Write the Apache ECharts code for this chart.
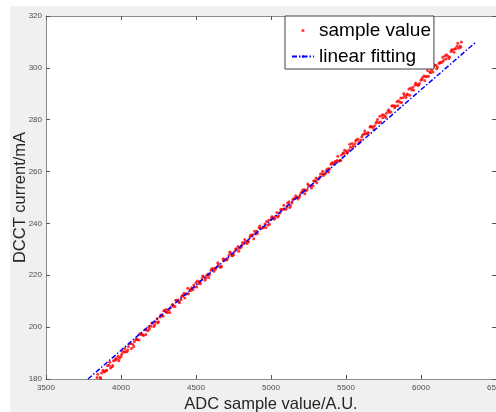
<!DOCTYPE html>
<html>
<head>
<meta charset="utf-8">
<script src="https://cdn.jsdelivr.net/npm/echarts@6/dist/echarts.min.js"></script>
<style>
  html, body { margin:0; padding:0; background:#ffffff; }
  #bg { position:absolute; left:10px; top:6px; width:486px; height:406px; background:#f0f0f0; }
  #chart { position:absolute; left:0; top:0; width:496px; height:412px; }
</style>
</head>
<body>
<div id="bg"></div>
<div id="chart"></div>
<script>
// Axis settings / tick values
const xTicks = [3500, 4000, 4500, 5000, 5500, 6000, 6500];
const yTicks = [180, 200, 220, 240, 260, 280, 300, 320];

// Sample values
const sampleXA = [3840,3860,3880,3900,3920,3940,3960,3980,4000,4020,4040,4060,4080,4100,4120,4140,4160,4180,4200,4220,4240,4260,4280,4300,4320,4340,4360,4380,4400,4420,4440,4460,4480,4500,4520,4540,4560,4580,4600,4620,4640,4660,4680,4700,4720,4740,4760,4780,4800,4820,4840,4860,4880,4900,4920,4940,4960,4980,5000,5020,5040,5060,5080,5100,5120,5140,5160,5180,5200,5220,5240,5260,5280,5300,5320,5340,5360,5380,5400,5420,5440,5460,5480,5500,5520,5540,5560,5580,5600,5620,5640,5660,5680,5700,5720,5740,5760,5780,5800,5820,5840,5860,5880,5900,5920,5940,5960,5980,6000,6020,6040,6060,6080,6100,6120,6140,6160,6180,6200,6220,6240,6260];
const sampleYA = [180.6,180.6,183.4,183.4,185.3,184.7,187.2,188.8,188.7,190.4,190.5,193.7,193.3,195.2,195.0,197.2,199.0,198.6,200.3,200.2,203.2,203.9,204.2,206.8,206.7,208.5,208.0,210.5,210.6,213.1,212.9,214.4,214.4,217.2,216.8,218.7,218.1,220.5,221.9,221.6,223.3,223.3,226.4,226.0,227.8,227.5,229.4,231.1,230.8,232.3,232.3,234.9,235.6,235.9,238.3,238.1,239.8,239.4,241.6,241.7,244.2,244.0,245.5,245.5,248.4,247.9,249.7,249.4,251.7,253.1,252.9,254.5,254.5,257.5,257.2,259.2,259.1,261.1,262.8,262.7,264.3,264.3,267.2,267.9,268.3,270.8,270.7,272.5,272.1,274.5,274.6,277.2,277.1,278.7,278.8,281.8,281.4,283.4,283.0,285.4,286.9,286.7,288.5,288.6,291.8,291.5,293.4,293.2,295.2,296.9,296.7,298.3,298.4,301.0,301.8,302.2,304.7,304.5,306.3,306.0,308.3,308.4];
const sampleXB = [3850,3870,3890,3910,3930,3950,3970,3990,4010,4030,4050,4070,4090,4110,4130,4150,4170,4190,4210,4230,4250,4270,4290,4310,4330,4350,4370,4390,4410,4430,4450,4470,4490,4510,4530,4550,4570,4590,4610,4630,4650,4670,4690,4710,4730,4750,4770,4790,4810,4830,4850,4870,4890,4910,4930,4950,4970,4990,5010,5030,5050,5070,5090,5110,5130,5150,5170,5190,5210,5230,5250,5270,5290,5310,5330,5350,5370,5390,5410,5430,5450,5470,5490,5510,5530,5550,5570,5590,5610,5630,5650,5670,5690,5710,5730,5750,5770,5790,5810,5830,5850,5870,5890,5910,5930,5950,5970,5990,6010,6030,6050,6070,6090,6110,6130,6150,6170,6190,6210,6230,6250,6270];
const sampleYB = [179.9,182.3,182.7,185.2,184.2,187.0,187.6,188.0,190.6,190.5,192.5,191.8,194.5,195.1,197.3,196.8,198.9,199.3,201.6,202.0,202.1,204.6,206.3,205.6,207.5,208.1,210.4,209.5,212.3,212.7,212.9,215.2,215.5,217.8,216.7,219.4,219.9,220.2,222.6,222.4,224.3,223.5,226.1,226.6,228.7,228.0,230.0,230.4,232.6,232.9,232.9,235.3,237.0,236.2,238.0,238.5,240.7,239.7,242.4,242.8,243.0,245.3,245.6,247.9,246.8,249.5,250.0,250.4,252.8,252.6,254.5,253.7,256.3,256.9,259.1,258.5,260.7,261.1,263.4,263.9,264.0,266.4,268.2,267.5,269.4,270.0,272.3,271.4,274.1,274.6,274.9,277.3,277.7,280.1,279.1,281.9,282.5,282.9,285.4,285.3,287.3,286.6,289.3,289.9,292.1,291.5,293.6,294.0,296.3,296.7,296.8,299.3,301.1,300.3,302.2,302.8,305.1,304.1,306.9,307.4,307.6,310.0];
const sampleXC = [3845,3865,3885,3905,3925,3945,3965,3985,4005,4025,4045,4065,4085,4105,4125,4145,4165,4185,4205,4225,4245,4265,4285,4305,4325,4345,4365,4385,4405,4425,4445,4465,4485,4505,4525,4545,4565,4585,4605,4625,4645,4665,4685,4705,4725,4745,4765,4785,4805,4825,4845,4865,4885,4905,4925,4945,4965,4985,5005,5025,5045,5065,5085,5105,5125,5145,5165,5185,5205,5225,5245,5265,5285,5305,5325,5345,5365,5385,5405,5425,5445,5465,5485,5505,5525,5545,5565,5585,5605,5625,5645,5665,5685,5705,5725,5745,5765,5785,5805,5825,5845,5865,5885,5905,5925,5945,5965,5985,6005,6025,6045,6065,6085,6105,6125,6145,6165,6185,6205,6225,6245,6265];
const sampleYC = [181.8,180.2,182.9,183.3,186.5,185.2,187.9,187.0,189.5,191.8,191.2,193.7,192.4,195.4,197.5,197.1,197.2,200.1,201.6,200.9,201.7,204.7,206.3,205.7,205.6,208.7,210.4,209.7,211.8,211.2,215.0,214.1,216.3,215.5,217.6,219.7,218.9,219.1,222.4,222.7,224.8,223.1,225.7,225.9,229.0,227.6,230.2,229.3,231.6,233.8,233.1,235.5,234.1,237.0,239.0,238.4,238.4,241.2,242.6,241.8,242.5,245.4,247.0,246.3,246.1,249.1,250.7,250.0,252.0,251.4,255.2,254.3,256.5,255.7,257.9,260.1,259.5,259.8,263.2,263.7,265.9,264.3,267.0,267.3,270.5,269.2,271.9,271.0,273.3,275.6,275.0,277.5,276.2,279.2,281.3,280.8,280.9,283.8,285.3,284.6,285.4,288.4,290.1,289.5,289.4,292.5,294.2,293.5,295.6,295.1,299.0,298.2,300.5,299.7,301.9,304.1,303.4,303.6,307.0,307.4,309.5,307.9];

// Linear fitting line end points
const fitX = [3780, 6367];
const fitY = [180, 310];

const seriesNames = ['sample value', 'linear fitting'];

const zip = (xs, ys) => xs.map((x, i) => [x, ys[i]]);
const sampleData = zip(sampleXA, sampleYA).concat(zip(sampleXB, sampleYB), zip(sampleXC, sampleYC));
const fitData = zip(fitX, fitY);

const FONT = 'Liberation Sans, Arial, sans-serif';
const axisLineColor = '#8c8c8c';
const tickColor = '#555555';
const labelColor = '#4d4d4d';
const plain = v => String(v);

const chart = echarts.init(document.getElementById('chart'), null, { renderer: 'canvas' });

const xMin = xTicks[0], xMax = xTicks[xTicks.length - 1], xInt = xTicks[1] - xTicks[0];
const yMin = yTicks[0], yMax = yTicks[yTicks.length - 1], yInt = yTicks[1] - yTicks[0];

chart.setOption({
  backgroundColor: 'transparent',
  animation: false,
  textStyle: { fontFamily: FONT },
  grid: {
    left: 46, top: 16, right: 0, bottom: 33,
    outerBoundsMode: 'none', containLabel: false,
    show: true, backgroundColor: '#ffffff', borderWidth: 0
  },
  legend: {
    orient: 'vertical',
    left: 285, top: 16,
    data: seriesNames,
    itemWidth: 22, itemHeight: 3, itemGap: 5,
    padding: [4, 3, 2, 6],
    backgroundColor: '#ffffff',
    borderColor: '#404040', borderWidth: 1, borderRadius: 0,
    textStyle: { fontSize: 19, color: '#000000', fontFamily: FONT, lineHeight: 21 }
  },
  xAxis: [{
    type: 'value', min: xMin, max: xMax, interval: xInt, position: 'bottom',
    name: 'ADC sample value/A.U.', nameLocation: 'middle', nameGap: 17, nameMoveOverlap: false,
    nameTextStyle: { fontSize: 16.5, color: '#262626', fontFamily: FONT },
    axisLine: { show: true, lineStyle: { color: axisLineColor, width: 1 } },
    axisTick: { show: true, inside: true, length: 4, lineStyle: { color: tickColor } },
    axisLabel: { fontSize: 8, color: labelColor, margin: 5, showMinLabel: true, showMaxLabel: true, fontFamily: FONT, formatter: plain, hideOverlap: false },
    splitLine: { show: false }
  }, {
    type: 'value', min: xMin, max: xMax, interval: xInt, position: 'top',
    axisLine: { show: true, lineStyle: { color: axisLineColor, width: 1 } },
    axisTick: { show: true, inside: true, length: 4, lineStyle: { color: tickColor } },
    axisLabel: { show: false },
    splitLine: { show: false }
  }],
  yAxis: [{
    type: 'value', min: yMin, max: yMax, interval: yInt, position: 'left',
    name: 'DCCT current/mA', nameLocation: 'middle', nameGap: 17, nameRotate: 90, nameMoveOverlap: false,
    nameTextStyle: { fontSize: 16.5, color: '#262626', fontFamily: FONT },
    axisLine: { show: true, lineStyle: { color: axisLineColor, width: 1 } },
    axisTick: { show: true, inside: true, length: 4, lineStyle: { color: tickColor } },
    axisLabel: { fontSize: 8, color: labelColor, margin: 4, showMinLabel: true, showMaxLabel: true, fontFamily: FONT, formatter: plain },
    splitLine: { show: false }
  }, {
    type: 'value', min: yMin, max: yMax, interval: yInt, position: 'right',
    axisLine: { show: true, lineStyle: { color: axisLineColor, width: 1 } },
    axisTick: { show: true, inside: true, length: 4, lineStyle: { color: tickColor } },
    axisLabel: { show: false },
    splitLine: { show: false }
  }],
  series: [{
    name: seriesNames[0],
    type: 'scatter',
    xAxisIndex: 0, yAxisIndex: 0,
    symbol: 'circle', symbolSize: 3,
    itemStyle: { color: '#ff0000' },
    clip: true,
    data: sampleData,
    z: 2
  }, {
    name: seriesNames[1],
    type: 'line',
    xAxisIndex: 0, yAxisIndex: 0,
    symbol: 'none',
    lineStyle: { color: '#0000ff', width: 1.5, type: [5, 2, 1.5, 2] },
    itemStyle: { color: '#0000ff' },
    data: fitData,
    z: 3
  }]
});
</script>
</body>
</html>
